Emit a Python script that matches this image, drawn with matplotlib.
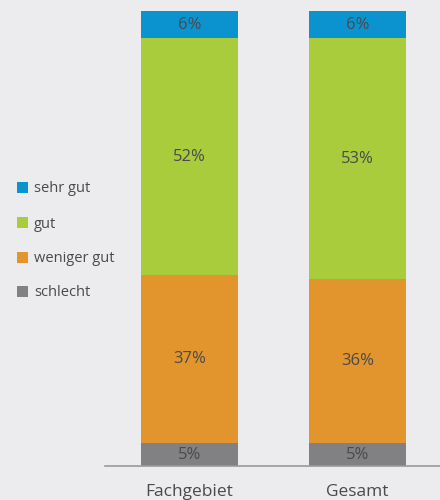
import matplotlib
matplotlib.use("Agg")
import matplotlib.pyplot as plt
import numpy as np

categories = ["Fachgebiet", "Gesamt"]
series = ["schlecht", "weniger gut", "gut", "sehr gut"]
values = {
    "schlecht": [5, 5],
    "weniger gut": [37, 36],
    "gut": [52, 53],
    "sehr gut": [6, 6],
}
colors = {
    "schlecht": "#818184",
    "weniger gut": "#E2952C",
    "gut": "#A8CC3C",
    "sehr gut": "#0A93CF",
}
legend_order = ["sehr gut", "gut", "weniger gut", "schlecht"]

bg = "#ECECEE"
txt = "#4A4A4C"
plt.rcParams['font.family'] = ['Open Sans', 'DejaVu Sans']

fig = plt.figure(figsize=(4.4, 5), dpi=100, facecolor=bg)
ax = fig.add_axes([105/440, 34/500, 335/440, 455/500])
ax.set_facecolor(bg)

x = np.arange(len(categories))
bottom = np.zeros(len(categories))
for s in series:
    v = np.array(values[s], dtype=float)
    ax.bar(x, v, bottom=bottom, width=0.577, color=colors[s], linewidth=0)
    for xi, vi, bi in zip(x, v, bottom):
        ax.text(xi, bi + vi / 2, f"{int(vi)}%", ha="center", va="center",
                fontsize=12, color=txt)
    bottom += v

ax.set_xlim(-0.503, 1.491)
ax.set_ylim(0, 100)
for sp in ["top", "right", "left"]:
    ax.spines[sp].set_visible(False)
ax.spines["bottom"].set_color("#9A9A9C")
ax.spines["bottom"].set_linewidth(1.2)
ax.set_yticks([])
ax.set_xticks(x)
ax.set_xticklabels(categories, fontsize=12.5, color=txt)
ax.tick_params(axis="x", length=0, pad=13)

# legend
ys = [187, 222, 257, 291]
for s, yp in zip(legend_order, ys):
    fy = 1 - yp / 500
    fig.patches.append(plt.Rectangle((17/440, fy - 5.5/500), 11/440, 11/500,
                                     transform=fig.transFigure, color=colors[s], lw=0))
    fig.text(34/440, fy - 2/500, s, ha="left", va="center", fontsize=10.5, color=txt)

fig.savefig("out.png", dpi=100, facecolor=bg)
